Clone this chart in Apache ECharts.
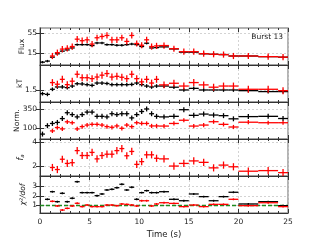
<!DOCTYPE html>
<html><head><meta charset="utf-8">
<script src="https://cdn.jsdelivr.net/npm/echarts@6/dist/echarts.min.js"></script>
<style>html,body{margin:0;padding:0;background:#fff}#c{width:320px;height:240px}</style>
</head><body><div id="c"></div>
<script>
// time bin edges (s)
const binEdges = [0,0.5,1,1.5,2,2.5,3,3.5,4,4.5,5,5.5,6,6.5,7,7.5,8,8.5,9,9.5,10,10.5,11,11.5,12,13,14,15,16,17,18,19,20,22,24,25];
const xTicks = [0,5,10,15,20,25];

const fluxBlack = [8.4,9.0,11.6,14.4,17.1,18.5,21,26,26,26,24.5,29,29,26,26,25,25,26,27,26,23,28.5,21,21.5, 22.5,19.7,16,16,14.4,14,13.7,12.5, 12.5,12,11.6];
const fluxRed = [null,null, 12.5,15.5,19.5,20.5,23,37,33.5,35.5,27,40.5,44,47,35.5,35.5,40.5,32,47,28,25,35.5,23,24, 24.5,20,16.5,16.5,14.5,14,13.7,12.5, 12.5,12,11.6];

const ktBlack = [1.36,1.33,1.55,1.65,1.65,1.62,1.69,1.79,1.78,1.75,1.72,1.82,1.82,1.8,1.75,1.75,1.75,1.75,1.76,1.82,1.75,1.69,1.65,1.69, 1.69,1.64,1.52,1.59,1.52,1.52,1.52,1.52, 1.49,1.45,1.45];
const ktRed = [null,null, 1.84,1.77,1.98,1.75,1.9,2.2,2.05,2.05,2.01,2.08,2.16,2.23,2.08,2.11,2.07,2.01,2.2,2.01,1.87,1.98,1.82,1.98, 1.74,1.81,1.69,1.84,1.74,1.64,1.69,1.69, 1.55,1.55,1.49];

const normBlack = [68,119,138,148,191,282,249,214,249,294,294,222,222,214,264,249,264,264,200,249,306,363,264,222, 214,222,345,237,258,242,232,188, 218,222,192];
const normRed = [null,null, 84,105,96,154,145,96,112,124,130,130,124,112,107,117,100,124,112,145,138,138,117,117, 116,138,171,116,124,155,130,109, 150,145,145];

const faRed = [null,null, 1.88,1.71,2.57,2.22,2.28,3.29,2.88,2.88,3.14,2.6,2.88,2.99,2.99,3.29,3.46,2.86,3.22,2.14,2.37,2.94,2.94,2.65, 2.6,2.0,2.22,2.43,2.31,1.85,2.08,1.94, 1.57,1.62,1.45];

const chiBlack = [null,1.63,2.43,1.38,2.26,1.38,1.74,3.48,2.33,2.33,2.33,2.01,2.19,2.61,2.68,2.85,3.21,2.61,2.9,1.63,2.33,2.54,2.33,2.33, 2.43,1.63,1.48,2.19,1.91,1.48,1.91,2.37, 1.14,1.38,0.96];
const chiRed = [null,null, 1.42,0.93,0.5,0.68,0.93,1.21,0.86,1.03,0.86,0.86,0.86,1.03,1.03,0.96,1.14,1.1,1.03,0.93,1.48,1.48,0.93,1.14, 1.27,1.2,0.86,1.03,0.86,1.1,1.1,1.63, 0.96,1.27,0.86];

// error sizes (relative for log panels, absolute for linear)
const fluxErr = {black: 0.08, red: 0.22};
const ktErr = {black: 0.08, red: 0.15};
const normErr = {black: 0.18, red: 0.15};
const faErr = 0.3;
const chiErr = 0.1;

const panelTicks = {
  flux: [15,55], kt: [1.5], norm: [100,350], fa: [2,4], chi: [1,2,3]
};

function rows(vals, err, rel) {
  const out = [];
  for (let i = 0; i < vals.length; i++) {
    const v = vals[i];
    if (v == null) continue;
    const lo = rel ? v / (1 + err) : v - err;
    const hi = rel ? v * (1 + err) : v + err;
    out.push([binEdges[i], binEdges[i + 1], v, lo, hi]);
  }
  return out;
}

function crossSeries(panel, data, color, z) {
  return {
    type: 'custom', xAxisIndex: panel * 2, yAxisIndex: panel * 2, clip: true, silent: true, z: z || 2,
    data: data,
    renderItem: function (params, api) {
      const t0 = api.value(0), t1 = api.value(1), v = api.value(2), lo = api.value(3), hi = api.value(4);
      const tm = (t0 + t1) / 2;
      const a = api.coord([t0, v]), b = api.coord([t1, v]);
      const c = api.coord([tm, lo]), d = api.coord([tm, hi]);
      const st = {stroke: color, lineWidth: 1.3};
      return {type: 'group', children: [
        {type: 'line', shape: {x1: a[0], y1: a[1], x2: b[0], y2: b[1]}, style: st},
        {type: 'line', shape: {x1: c[0], y1: c[1], x2: d[0], y2: d[1]}, style: st}
      ]};
    }
  };
}

const tops = [28, 65, 102, 139, 176];
const H = 37;
const grids = tops.map(t => ({left: 40, right: 32, top: t, height: H, show: true, borderColor: '#9a9a9a', borderWidth: 1.5, backgroundColor: 'transparent'}));

const lblFont = {fontFamily: 'DejaVu Sans', fontSize: 7, color: '#1a1a1a'};
const gridLine = {show: true, lineStyle: {type: [2, 2], color: '#c8c8c8', width: 0.8}};

const xAxes = [];
for (let i = 0; i < 5; i++) {
  xAxes.push({
    gridIndex: i, type: 'value', min: 0, max: 25, interval: 5, position: 'bottom',
    axisLine: {show: true, onZero: false, lineStyle: {color: '#333', width: 1}},
    axisTick: {show: true, inside: true, length: 4, lineStyle: {color: '#333'}},
    minorTick: {show: true, splitNumber: 5, length: 2, lineStyle: {color: '#333'}},
    axisLabel: Object.assign({show: i === 4, margin: 5}, lblFont, {fontSize: 7.5}),
    splitLine: gridLine,
    name: i === 4 ? 'Time (s)' : '', nameLocation: 'middle', nameGap: 17,
    nameTextStyle: Object.assign({}, lblFont, {fontSize: 8.5})
  });
  xAxes.push({
    gridIndex: i, type: 'value', min: 0, max: 25, interval: 5, position: 'top',
    axisLine: {show: false},
    axisTick: {show: true, inside: true, length: 4, lineStyle: {color: '#333'}},
    minorTick: {show: true, splitNumber: 5, length: 2, lineStyle: {color: '#333'}},
    axisLabel: {show: false}, splitLine: {show: false}
  });
}

const yDefs = [
  {type: 'log', min: 7, max: 76, ticks: panelTicks.flux, name: 'Flux', gap: 14},
  {type: 'value', min: 1.0, max: 2.6, ticks: panelTicks.kt, name: 'kT', gap: 15.5},
  {type: 'log', min: 49, max: 577, ticks: panelTicks.norm, name: 'Norm.', gap: 18.5},
  {type: 'value', min: 1.17, max: 4.26, ticks: panelTicks.fa, name: '{i|f}{s|a}', gap: 14.5},
  {type: 'value', min: 0.19, max: 4.08, ticks: panelTicks.chi, name: 'χ²/dof', gap: 13}
];
const yAxes = [];
yDefs.forEach((d, i) => {
  const base = {gridIndex: i, type: d.type, min: d.min, max: d.max};
  if (d.type === 'log') base.logBase = 10;
  yAxes.push(Object.assign({}, base, {
    position: 'left',
    axisLine: {show: true, lineStyle: {color: '#333', width: 1}},
    axisTick: {show: true, inside: true, length: 4, customValues: d.ticks, lineStyle: {color: '#333'}},
    axisLabel: Object.assign({customValues: d.ticks, margin: 3}, lblFont, {fontSize: 7.5}),
    splitLine: gridLine,
    name: d.name, nameLocation: 'middle', nameRotate: 90, nameGap: d.gap, nameMoveOverlap: false,
    nameTextStyle: Object.assign({}, lblFont, {fontSize: 7.5, fontStyle: i >= 3 ? 'italic' : 'normal', rich: {i: {fontStyle: 'italic', fontSize: 8, fontFamily: 'DejaVu Sans', color: '#1a1a1a'}, s: {fontStyle: 'italic', fontSize: 5.5, fontFamily: 'DejaVu Sans', color: '#1a1a1a', padding: [4, 0, 0, 0]}}})
  }));
  yAxes.push(Object.assign({}, base, {
    position: 'right',
    axisLine: {show: false},
    axisTick: {show: true, inside: true, length: 4, customValues: d.ticks, lineStyle: {color: '#333'}},
    axisLabel: {show: false}, splitLine: {show: false}
  }));
});

const series = [
  crossSeries(0, rows(fluxBlack, fluxErr.black, true), '#000'),
  crossSeries(0, rows(fluxRed, fluxErr.red, true), '#ff0000'),
  crossSeries(1, rows(ktBlack, ktErr.black, false), '#000'),
  crossSeries(1, rows(ktRed, ktErr.red, false), '#ff0000'),
  crossSeries(2, rows(normBlack, normErr.black, true), '#000'),
  crossSeries(2, rows(normRed, normErr.red, true), '#ff0000'),
  crossSeries(3, rows(faRed, faErr, false), '#ff0000'),
  crossSeries(4, rows(chiBlack, chiErr, false), '#000', 3),
  crossSeries(4, rows(chiRed, chiErr, false), '#ff0000', 3)
];
series[7].markLine = {silent: true, symbol: 'none', label: {show: false}, z: 1,
  lineStyle: {color: '#1f8a1f', type: [4, 2], width: 1.3}, data: [{yAxis: 1}]};

const chart = echarts.init(document.getElementById('c'), null, {renderer: 'canvas'});
chart.setOption({
  animation: false,
  backgroundColor: '#fff',
  title: {text: 'Burst 13', right: 37, top: 33, padding: 0,
    textStyle: {fontFamily: 'DejaVu Sans', fontSize: 7.5, fontWeight: 'normal', color: '#1a1a1a'}},
  grid: grids, xAxis: xAxes, yAxis: yAxes, series: series
});
</script></body></html>
